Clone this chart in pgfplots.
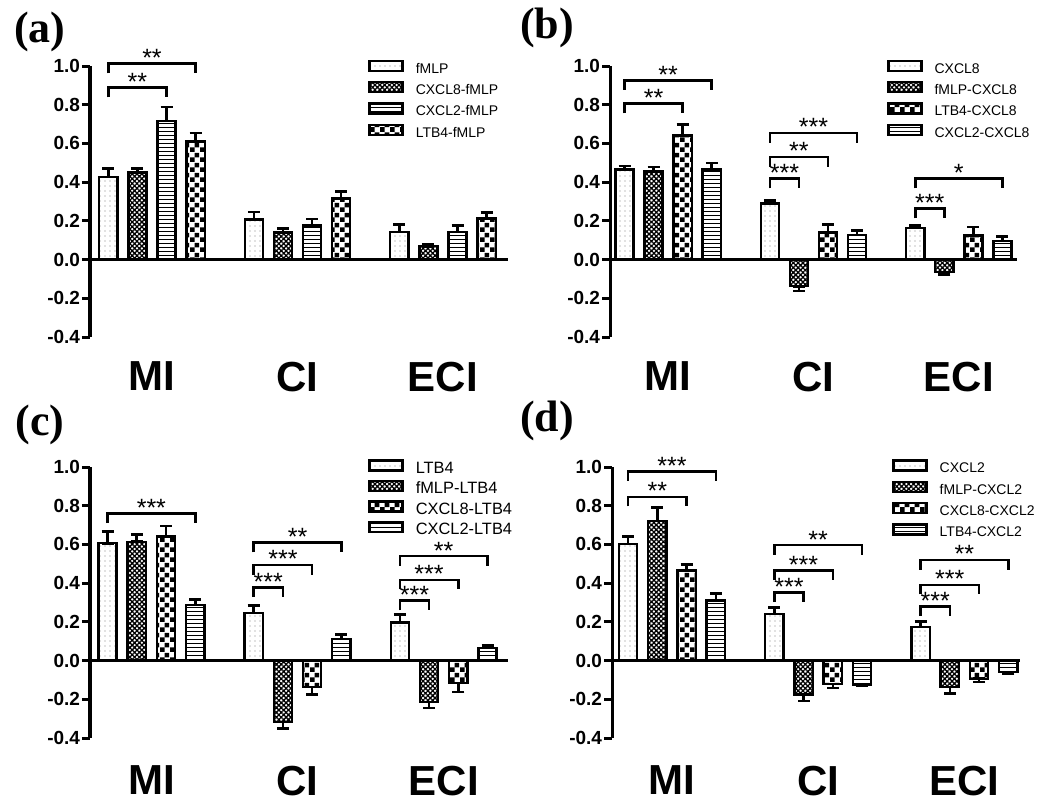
\documentclass[border=0pt]{standalone}
\usepackage{fontspec}
\setmainfont{Liberation Sans}
\newfontfamily\serifb{Liberation Serif}
\usepackage{pgfplots}
\pgfplotsset{compat=1.18}
\usetikzlibrary{patterns,patterns.meta}
\tikzdeclarepattern{
  name=Checker,
  type=uncolored,
  bottom left={(0pt,0pt)},
  top right={(5pt,5pt)},
  tile size={(5pt,5pt)},
  code={
    \fill (0pt,0pt) rectangle (2.5pt,2.5pt);
    \fill (2.5pt,2.5pt) rectangle (5pt,5pt);
  }
}
\tikzset{star/.style={anchor=base, inner sep=0pt, font=\fontsize{12.5}{12.5}\selectfont, yshift=-1.5pt}}
\newcommand{\brk}[4]{\draw[line width=1.3pt] (axis cs:#1,#3) ++(0pt,-4.8pt) -- (axis cs:#1,#3) -- node[star]{#4} (axis cs:#2,#3) -- ++(0pt,-4.8pt);}
\pgfplotsset{
  panel/.style={
    scale only axis, height=135.5pt,
    ymin=-0.4, ymax=1.0, ytick={-0.4,-0.2,0,0.2,0.4,0.6,0.8,1.0},
    axis y line*=left, axis x line*=bottom,
    x axis line style={draw=none},
    xtick={0,1,2}, xticklabels={MI,CI,ECI},
    major x tick style={draw=none},
    xticklabel style={font=\bfseries\fontsize{21}{21}\selectfont, yshift=-5pt},
    y axis line style={line width=1.5pt},
    major y tick style={line width=1.5pt, black},
    tick align=outside, major tick length=4pt,
    /pgf/number format/assume math mode=true,
    yticklabel style={font=\bfseries\fontsize{9.5}{9.5}\selectfont, inner sep=0.8pt, /pgf/number format/.cd, fixed, fixed zerofill, precision=1},
    clip=false,
    legend style={draw=none, fill=none, anchor=north west, font=\fontsize{7}{8}\selectfont,
      nodes={inner sep=0pt, text height=5.2pt, text depth=1pt},
      row sep=3pt, inner sep=0pt, column sep=6pt},
    legend cell align=left,
    legend image code/.code={\draw[#1, line width=1.2pt] (0pt,-1pt) rectangle (16.5pt,4pt);},
  },
  bars/.style={ybar, bar width=0.125, bar shift=0pt, draw=black, line width=1.2pt,
    error bars/.cd, y dir=both, y explicit,
    error bar style={line width=1.3pt, black, solid},
    error mark options={rotate=90, line width=1.3pt, mark size=3pt, black}},
  s1/.style={pattern={Dots[distance=2.5pt, radius=0.35pt]}, pattern color=gray, bars},
  s2/.style={pattern={Hatch[distance=1.7pt, angle=45, line width=0.65pt]}, pattern color=black, bars},
  s3/.style={pattern={Lines[distance=2pt, angle=0, line width=0.5pt]}, pattern color=black, bars},
  s4/.style={pattern=Checker, pattern color=black, bars},
}
\begin{document}
\begin{tikzpicture}
\useasboundingbox (0,0) rectangle (525pt,405.5pt);
% ---------------- (a)
\begin{axis}[panel, at={(45pt,237pt)}, anchor=south west, width=209pt,
  xmin=-0.426, xmax=2.447,
  legend style={at={(0.665,1.025)}}]
\addplot[s1] table[x=x,y=y,y error plus=ep,y error minus=em]{
x y ep em
-0.3 0.427 0.043 0
0.7 0.208 0.038 0
1.7 0.143 0.037 0
};
\addplot[s2] table[x=x,y=y,y error plus=ep,y error minus=em]{
x y ep em
-0.1 0.449 0.021 0
0.9 0.139 0.021 0
1.9 0.069 0.010 0
};
\addplot[s3] table[x=x,y=y,y error plus=ep,y error minus=em]{
x y ep em
0.1 0.716 0.072 0
1.1 0.177 0.033 0
2.1 0.143 0.033 0
};
\addplot[s4] table[x=x,y=y,y error plus=ep,y error minus=em]{
x y ep em
0.3 0.611 0.043 0
1.3 0.315 0.038 0
2.3 0.212 0.032 0
};
\legend{fMLP, CXCL8-fMLP, CXCL2-fMLP, LTB4-fMLP}
\draw[line width=1.5pt] (axis cs:-0.426,0) -- (axis cs:2.447,0);
\brk{-0.3}{0.1}{0.888}{**}
\brk{-0.3}{0.3}{1.012}{**}
\end{axis}
% ---------------- (b)
\begin{axis}[panel, at={(305pt,237pt)}, anchor=south west, width=203.5pt,
  xmin=-0.40, xmax=2.40,
  legend style={at={(0.68,1.025)}}]
\addplot[s1] table[x=x,y=y,y error plus=ep,y error minus=em]{
x y ep em
-0.3 0.465 0.019 0
0.7 0.289 0.017 0
1.7 0.163 0.014 0
};
\addplot[s2] table[x=x,y=y,y error plus=ep,y error minus=em]{
x y ep em
-0.1 0.456 0.022 0
0.9 -0.138 0 0.024
1.9 -0.064 0 0.012
};
\addplot[s4] table[x=x,y=y,y error plus=ep,y error minus=em]{
x y ep em
0.1 0.642 0.057 0
1.1 0.139 0.043 0
2.1 0.124 0.045 0
};
\addplot[s3] table[x=x,y=y,y error plus=ep,y error minus=em]{
x y ep em
0.3 0.466 0.033 0
1.3 0.126 0.025 0
2.3 0.096 0.024 0
};
\legend{CXCL8, fMLP-CXCL8, LTB4-CXCL8, CXCL2-CXCL8}
\draw[line width=1.5pt] (axis cs:-0.40,0) -- (axis cs:2.40,0);
\brk{-0.3}{0.1}{0.805}{**}
\brk{-0.3}{0.3}{0.926}{**}
\brk{0.7}{0.9}{0.418}{***}
\brk{0.7}{1.1}{0.53}{**}
\brk{0.7}{1.3}{0.654}{***}
\brk{1.7}{1.9}{0.263}{***}
\brk{1.7}{2.3}{0.418}{*}
\end{axis}
% ---------------- (c)
\begin{axis}[panel, at={(45pt,36.5pt)}, anchor=south west, width=209pt,
  xmin=-0.42, xmax=2.44,
  xticklabel style={yshift=-1.5pt},
  legend style={at={(0.665,1.03)}, font=\fontsize{8.2}{9}\selectfont,
    nodes={inner sep=0pt, text height=6.1pt, text depth=1.2pt}, row sep=2pt}]
\addplot[s1] table[x=x,y=y,y error plus=ep,y error minus=em]{
x y ep em
-0.3 0.606 0.060 0
0.7 0.245 0.040 0
1.7 0.197 0.040 0
};
\addplot[s2] table[x=x,y=y,y error plus=ep,y error minus=em]{
x y ep em
-0.1 0.614 0.038 0
0.9 -0.317 0 0.035
1.9 -0.214 0 0.030
};
\addplot[s4] table[x=x,y=y,y error plus=ep,y error minus=em]{
x y ep em
0.1 0.640 0.055 0
1.1 -0.136 0 0.039
2.1 -0.115 0 0.048
};
\addplot[s3] table[x=x,y=y,y error plus=ep,y error minus=em]{
x y ep em
0.3 0.288 0.029 0
1.3 0.111 0.023 0
2.3 0.065 0.014 0
};
\legend{LTB4, fMLP-LTB4, CXCL8-LTB4, CXCL2-LTB4}
\draw[line width=1.5pt] (axis cs:-0.42,0) -- (axis cs:2.44,0);
\brk{-0.3}{0.3}{0.76}{***}
\brk{0.7}{0.9}{0.377}{***}
\brk{0.7}{1.1}{0.494}{***}
\brk{0.7}{1.3}{0.609}{**}
\brk{1.7}{1.9}{0.309}{***}
\brk{1.7}{2.1}{0.417}{***}
\brk{1.7}{2.3}{0.54}{**}
\end{axis}
% ---------------- (d)
\begin{axis}[panel, at={(306pt,36.5pt)}, anchor=south west, width=204pt,
  xmin=-0.41, xmax=2.38,
  xticklabel style={yshift=-1.5pt},
  legend style={at={(0.686,1.03)}}]
\addplot[s1] table[x=x,y=y,y error plus=ep,y error minus=em]{
x y ep em
-0.3 0.602 0.038 0
0.7 0.240 0.034 0
1.7 0.173 0.029 0
};
\addplot[s2] table[x=x,y=y,y error plus=ep,y error minus=em]{
x y ep em
-0.1 0.722 0.068 0
0.9 -0.175 0 0.034
1.9 -0.136 0 0.034
};
\addplot[s4] table[x=x,y=y,y error plus=ep,y error minus=em]{
x y ep em
0.1 0.465 0.031 0
1.1 -0.120 0 0.022
2.1 -0.094 0 0.017
};
\addplot[s3] table[x=x,y=y,y error plus=ep,y error minus=em]{
x y ep em
0.3 0.310 0.035 0
1.3 -0.124 0 0.008
2.3 -0.060 0 0.007
};
\legend{CXCL2, fMLP-CXCL2, CXCL8-CXCL2, LTB4-CXCL2}
\draw[line width=1.5pt] (axis cs:-0.41,0) -- (axis cs:2.38,0);
\brk{-0.3}{0.1}{0.846}{**}
\brk{-0.3}{0.3}{0.978}{***}
\brk{0.7}{0.9}{0.352}{***}
\brk{0.7}{1.1}{0.465}{***}
\brk{0.7}{1.3}{0.597}{**}
\brk{1.7}{1.9}{0.28}{***}
\brk{1.7}{2.1}{0.391}{***}
\brk{1.7}{2.3}{0.52}{**}
\end{axis}
% panel labels
\node[font=\serifb\bfseries\fontsize{22}{22}\selectfont] at (20pt,389.5pt) {(a)};
\node[font=\serifb\bfseries\fontsize{22}{22}\selectfont] at (273.5pt,391.5pt) {(b)};
\node[font=\serifb\bfseries\fontsize{22}{22}\selectfont] at (20pt,193pt) {(c)};
\node[font=\serifb\bfseries\fontsize{22}{22}\selectfont] at (273.5pt,195pt) {(d)};
\end{tikzpicture}
\end{document}
